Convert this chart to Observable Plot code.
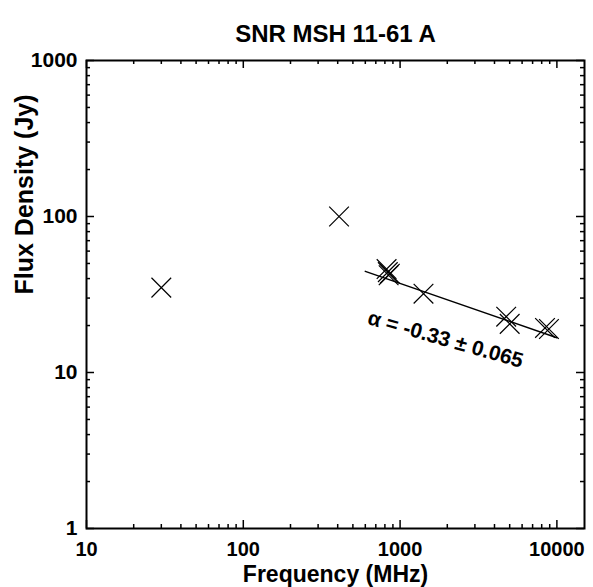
<!DOCTYPE html>
<html>
<head>
<meta charset="utf-8">
<script src="https://cdn.jsdelivr.net/npm/d3@7"></script>
<script src="https://cdn.jsdelivr.net/npm/@observablehq/plot@0.6"></script>
<style>
  html, body { margin: 0; padding: 0; background: #fff; }
  #chart svg { display: block; }
</style>
</head>
<body>
<div id="chart"></div>
<script>
// Data
const title = "SNR MSH 11-61 A";
const xLabel = "Frequency (MHz)";
const yLabel = "Flux Density (Jy)";
const freqs  = [30, 408, 820, 835, 845, 860, 1410, 4750, 5000, 8400, 8900];
const fluxes = [35, 100, 46, 44, 42, 43, 32, 22.8, 20.5, 19.3, 19.0];
const fitFreqs  = [600, 10000];
const fitFluxes = [44.5, 16.7];
const fitLabel = "α = -0.33 ± 0.065";
const fitLabelAt = [1950, 16.3];
const xMajor = [10, 100, 1000, 10000];
const xMinor = [20, 30, 40, 50, 60, 70, 80, 90, 200, 300, 400, 500, 600, 700, 800, 900, 2000, 3000, 4000, 5000, 6000, 7000, 8000, 9000];
const yMajor = [1, 10, 100, 1000];
const yMinor = [2, 3, 4, 5, 6, 7, 8, 9, 20, 30, 40, 50, 60, 70, 80, 90, 200, 300, 400, 500, 600, 700, 800, 900];

const points = freqs.map((f, i) => ({f, s: fluxes[i]}));
const fit = fitFreqs.map((f, i) => ({f, s: fitFluxes[i]}));

const W = 593, H = 587;
const mL = 86, mR = 9, mT = 60, mB = 59;
const pw = W - mL - mR, ph = H - mT - mB;
const font = "'Liberation Sans', Arial, Helvetica, sans-serif";
const majorLen = 8, minorLen = 4;

const chart = Plot.plot({
  width: W, height: H,
  marginLeft: mL, marginRight: mR, marginTop: mT, marginBottom: mB,
  style: {fontFamily: font, background: "#fff", color: "#000", overflow: "visible"},
  x: {type: "log", domain: [10, 15000], axis: null},
  y: {type: "log", domain: [1, 1000], axis: null},
  marks: [
    // ticks: left / right
    Plot.tickY(yMajor, {y: d => d, insetRight: pw - majorLen, stroke: "#000", strokeWidth: 1.5}),
    Plot.tickY(yMinor, {y: d => d, insetRight: pw - minorLen, stroke: "#000", strokeWidth: 1.5}),
    Plot.tickY(yMajor, {y: d => d, insetLeft: pw - majorLen, stroke: "#000", strokeWidth: 1.5}),
    Plot.tickY(yMinor, {y: d => d, insetLeft: pw - minorLen, stroke: "#000", strokeWidth: 1.5}),
    // ticks: bottom / top
    Plot.tickX(xMajor, {x: d => d, insetTop: ph - majorLen, stroke: "#000", strokeWidth: 1.5}),
    Plot.tickX(xMinor, {x: d => d, insetTop: ph - minorLen, stroke: "#000", strokeWidth: 1.5}),
    Plot.tickX(xMajor, {x: d => d, insetBottom: ph - majorLen, stroke: "#000", strokeWidth: 1.5}),
    Plot.tickX(xMinor, {x: d => d, insetBottom: ph - minorLen, stroke: "#000", strokeWidth: 1.5}),
    Plot.frame({stroke: "#000", strokeWidth: 2}),
    // tick labels
    Plot.text(yMajor, {y: d => d, text: d => String(d), frameAnchor: "left", textAnchor: "end", dx: -9,
      fontSize: 21, fontWeight: "bold", fill: "#000"}),
    Plot.text(xMajor, {x: d => d, text: d => String(d), frameAnchor: "bottom", lineAnchor: "top", dy: 13,
      fontSize: 20, fontWeight: "bold", fill: "#000"}),
    // axis labels and title
    Plot.text([xLabel], {frameAnchor: "bottom", lineAnchor: "bottom", dy: 53, fontSize: 23, fontWeight: "bold", fill: "#000"}),
    Plot.text([yLabel], {frameAnchor: "left", rotate: -90, dx: -62, fontSize: 25, fontWeight: "bold", fill: "#000"}),
    Plot.text([title], {frameAnchor: "top", dy: -36, fontSize: 24, fontWeight: "bold", fill: "#000"}),
    // fit line and data
    Plot.line(fit, {x: "f", y: "s", stroke: "#000", strokeWidth: 1.5}),
    Plot.dot(points, {x: "f", y: "s", symbol: "times", r: 9, stroke: "#000", strokeWidth: 1.2}),
    Plot.text([fitLabel], {x: () => fitLabelAt[0], y: () => fitLabelAt[1], rotate: 16,
      fontSize: 21, fontWeight: "bold", fill: "#000"})
  ]
});
document.getElementById("chart").appendChild(chart);
</script>
</body>
</html>
